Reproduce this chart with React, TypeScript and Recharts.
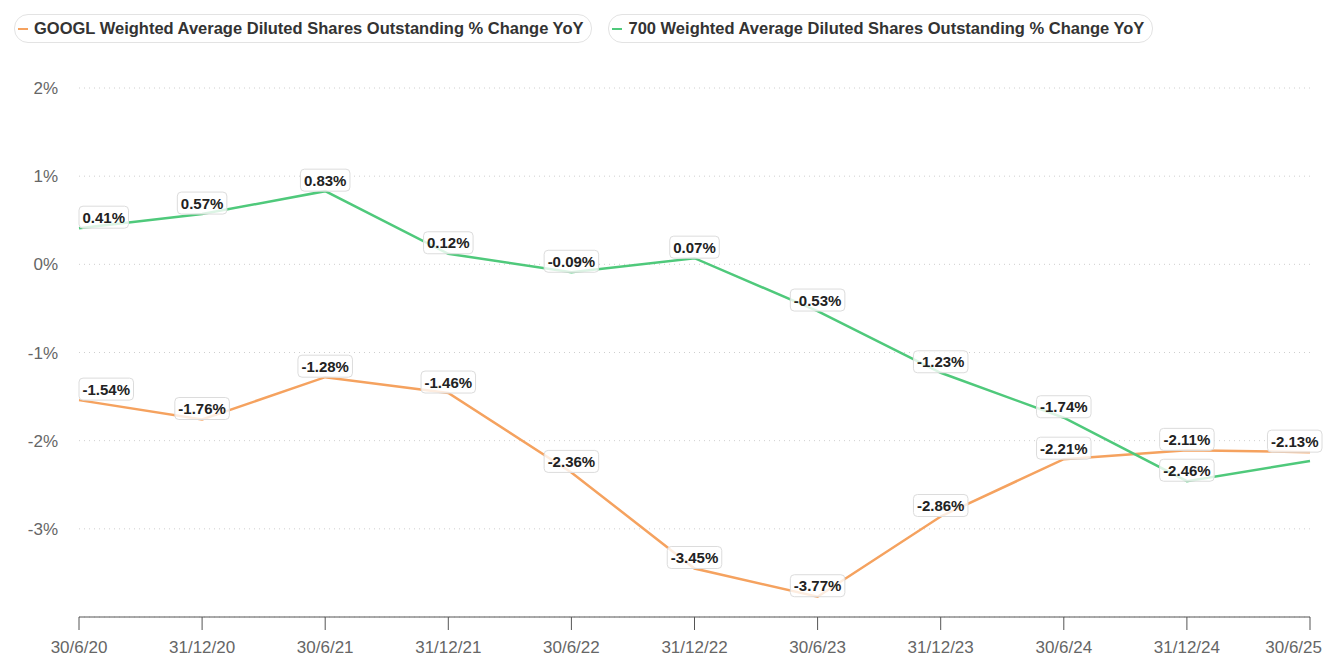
import React from "react";
import { LineChart, Line, XAxis, YAxis, CartesianGrid, LabelList } from "recharts";

const dates = ["30/6/20", "31/12/20", "30/6/21", "31/12/21", "30/6/22", "31/12/22", "30/6/23", "31/12/23", "30/6/24", "31/12/24", "30/6/25"];
const googl = [-1.54, -1.76, -1.28, -1.46, -2.36, -3.45, -3.77, -2.86, -2.21, -2.11, -2.13];
const tencent = [0.41, 0.57, 0.83, 0.12, -0.09, 0.07, -0.53, -1.23, -1.74, -2.46, -2.23];
const tencentShowLabel = [true, true, true, true, true, true, true, true, true, true, false];
const yTicks = [-3, -2, -1, 0, 1, 2];

const seriesNames = [
  "GOOGL Weighted Average Diluted Shares Outstanding % Change YoY",
  "700 Weighted Average Diluted Shares Outstanding % Change YoY",
];
const ORANGE = "#f5a25f";
const GREEN = "#4fc97b";
const FONT = "Liberation Sans, Arial, Helvetica, sans-serif";

const data = dates.map((d, i) => ({ date: d, googl: googl[i], tencent: tencent[i] }));

const fmt = (v: number) => `${v.toFixed(2)}%`;

function charW(c: string) {
  const s = 15;
  if (c === "-") return 0.333 * s;
  if (c === ".") return 0.278 * s;
  if (c === "%") return 0.889 * s;
  return 0.556 * s;
}

const makeLabel = (showMask?: boolean[]) => (props: any) => {
  const { x, y, value, index } = props;
  if (value == null) return null;
  if (showMask && !showMask[index]) return null;
  const text = fmt(Number(value));
  let tw = 0;
  for (const c of text) tw += charW(c);
  const w = tw + 7;
  let x0 = x - w / 2;
  if (x0 < 79) x0 = 79;
  if (x0 + w > 1322) x0 = 1322 - w;
  const h = 22;
  const y0 = y - h;
  return (
    <g>
      <rect x={x0} y={y0} width={w} height={h} rx={4} ry={4} fill="#ffffff" fillOpacity={0.8} stroke="#dcdcdc" strokeWidth={1} />
      <text x={x0 + w / 2} y={y0 + 16.5} textAnchor="middle" fontFamily={FONT} fontWeight="bold" fontSize={15} fill="#222">
        {text}
      </text>
    </g>
  );
};

const XTick = (props: any) => {
  const { x, y, payload, index } = props;
  const last = index === dates.length - 1;
  return (
    <text
      x={last ? 1322 : x}
      y={y}
      dy="0.71em"
      textAnchor={last ? "end" : "middle"}
      fill="#666"
      fontSize={17}
      fontFamily={FONT}
    >
      {payload.value}
    </text>
  );
};

function LegendPill({ color, label }: { color: string; label: string }) {
  return (
    <div
      style={{
        display: "inline-flex",
        alignItems: "center",
        height: 29,
        border: "1px solid #e3e3e3",
        borderRadius: 14,
        padding: "0 8px 0 3px",
        marginRight: 16,
        background: "#fff",
        boxSizing: "border-box",
      }}
    >
      <span style={{ display: "inline-block", width: 10, height: 2, background: color, margin: "0 6px 0 0" }} />
      <span style={{ fontFamily: FONT, fontWeight: "bold", fontSize: 16.5, color: "#333", whiteSpace: "nowrap" }}>{label}</span>
    </div>
  );
}

export default function App() {
  return (
    <div style={{ position: "absolute", left: 0, top: 0, width: 1339, height: 665, background: "#fff" }}>
      <div style={{ position: "absolute", left: 14, top: 14, display: "flex" }}>
        <LegendPill color={ORANGE} label={seriesNames[0]} />
        <LegendPill color={GREEN} label={seriesNames[1]} />
      </div>
      <LineChart width={1339} height={665} data={data} margin={{ top: 88, right: 29, bottom: 0, left: 0 }}>
        <CartesianGrid vertical={false} stroke="#cfcfcf" strokeDasharray="1 4" />
        <XAxis
          dataKey="date"
          interval={0}
          height={48}
          axisLine={{ stroke: "#555" }}
          tickLine={{ stroke: "#555" }}
          tickSize={13}
          tickMargin={11}
          tick={<XTick />}
        />
        <YAxis
          type="number"
          domain={[-4, 2]}
          ticks={yTicks}
          width={79}
          axisLine={false}
          tickLine={false}
          tickSize={0}
          tickMargin={21}
          tickFormatter={(v: number) => `${v}%`}
          tick={{ fill: "#666", fontSize: 17, fontFamily: FONT }}
        />
        <Line type="linear" dataKey="googl" name={seriesNames[0]} stroke={ORANGE} strokeWidth={2.5} dot={false} isAnimationActive={false}>
          <LabelList dataKey="googl" content={makeLabel()} />
        </Line>
        <Line type="linear" dataKey="tencent" name={seriesNames[1]} stroke={GREEN} strokeWidth={2.5} dot={false} isAnimationActive={false}>
          <LabelList dataKey="tencent" content={makeLabel(tencentShowLabel)} />
        </Line>
      </LineChart>
    </div>
  );
}
